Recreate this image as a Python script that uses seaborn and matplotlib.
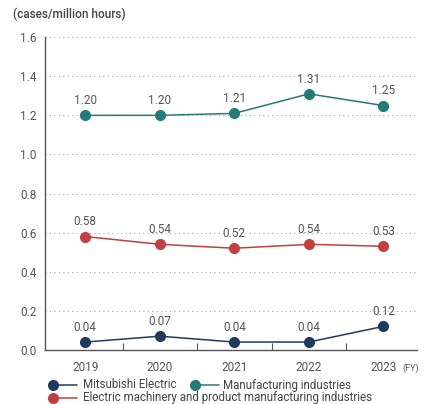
import matplotlib
matplotlib.use("Agg")
import matplotlib.pyplot as plt
from matplotlib.lines import Line2D
import seaborn as sns
import pandas as pd

years = ["2019", "2020", "2021", "2022", "2023"]
mitsubishi = [0.04, 0.07, 0.04, 0.04, 0.12]
manufacturing = [1.20, 1.20, 1.21, 1.31, 1.25]
electric = [0.58, 0.54, 0.52, 0.54, 0.53]
series_names = ["Mitsubishi Electric", "Manufacturing industries",
                "Electric machinery and product manufacturing industries"]
yticks = [0.0, 0.2, 0.4, 0.6, 0.8, 1.0, 1.2, 1.4, 1.6]

colors = {series_names[0]: "#1e3a5f", series_names[1]: "#237b76", series_names[2]: "#c0413f"}

sns.set_theme(style="white")
plt.rcParams["font.family"] = ["Roboto", "DejaVu Sans"]

df = pd.DataFrame({
    "year": years * 3,
    "value": mitsubishi + manufacturing + electric,
    "series": [series_names[0]] * 5 + [series_names[1]] * 5 + [series_names[2]] * 5,
})
df["x"] = df["year"].map({y: i for i, y in enumerate(years)})

fig = plt.figure(figsize=(4.25, 4.04), dpi=100)
ax = fig.add_axes([0.106, 0.134, 0.875, 0.774])

sns.lineplot(data=df, x="x", y="value", hue="series", palette=colors, marker="o",
             markersize=8, markeredgewidth=0, linewidth=1.1, ax=ax, legend=False, zorder=3)

for vals, name in [(mitsubishi, series_names[0]), (manufacturing, series_names[1]), (electric, series_names[2])]:
    for i, v in enumerate(vals):
        ax.annotate(f"{v:.2f}", (i, v), xytext=(0, 6), textcoords="offset points",
                    ha="center", va="bottom", fontsize=8.5, color="#555555")

ax.set_xlim(-0.54, 4.45)
ax.set_ylim(0, 1.6)
ax.set_yticks(yticks)
ax.set_yticklabels([f"{t:.1f}" for t in yticks], fontsize=8.5, color="#555555")
ax.set_xticks(range(len(years)))
ax.set_xticklabels(years, fontsize=8.5, color="#555555")
ax.set_xticks([0.5, 1.5, 2.5, 3.5], minor=True)
ax.tick_params(axis="x", which="major", length=0, pad=8)
ax.tick_params(axis="x", which="minor", direction="in", length=5, width=0.8, color="#555555", bottom=True)
ax.tick_params(axis="y", length=0, pad=6)
ax.set_xlabel("")
ax.set_ylabel("")
for y in yticks[1:]:
    ax.axhline(y, color="#aaaaaa", linestyle=(0, (1, 3)), linewidth=0.8, zorder=1)
for s in ["top", "right"]:
    ax.spines[s].set_visible(False)
for s in ["left", "bottom"]:
    ax.spines[s].set_color("#555555")
    ax.spines[s].set_linewidth(1.0)

fig.text(13 / 425, 1 - 14 / 404, "(cases/million hours)", fontsize=8.5, color="#444444",
         va="center", ha="left", weight="medium")
fig.text(411 / 425, 1 - 368 / 404, "(FY)", fontsize=6.5, color="#555555", va="center", ha="center")

def legend_item(x0, y, name, textx):
    c = colors[name]
    fig.add_artist(Line2D([x0 / 425, (x0 + 24) / 425], [y, y], color=c, linewidth=1.1, transform=fig.transFigure))
    fig.add_artist(Line2D([x0 / 425], [y], color=c, marker="o", markersize=8, markeredgewidth=0,
                          linestyle="none", transform=fig.transFigure))
    fig.text(textx / 425, y, name, fontsize=8.3, color="#444444", va="center", ha="left")

r1 = 1 - 385 / 404
r2 = 1 - 398 / 404
legend_item(53, r1, series_names[0], 83)
legend_item(195, r1, series_names[1], 223)
legend_item(53, r2, series_names[2], 83)

fig.savefig("out.png", dpi=100)
